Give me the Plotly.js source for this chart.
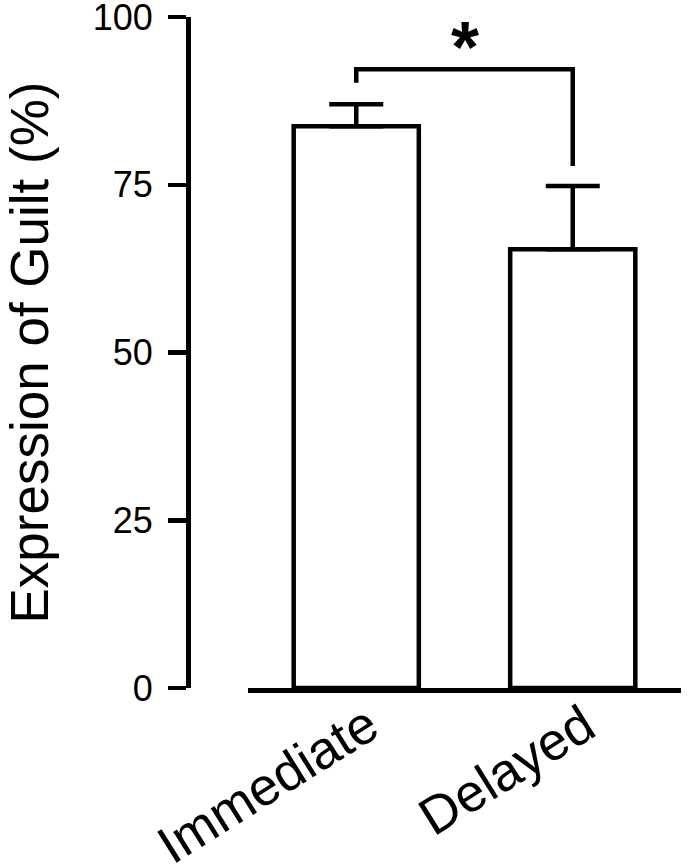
<!DOCTYPE html>
<html>
<head>
<meta charset="utf-8">
<script src="https://cdn.plot.ly/plotly-3.0.1.min.js"></script>
<style>html,body{margin:0;padding:0;background:#fff;}#chart{width:688px;height:864px;}</style>
</head>
<body>
<div id="chart"></div>
<script>
var categories = ["Immediate", "Delayed"];
var guiltValues = [83.7, 65.4];
var guiltErrors = [3.3, 9.4];
var yTickVals = [0, 25, 50, 75, 100];
var yTickText = ["0", "25", "50", "75", "100"];
var bracketX = [0, 0, 1, 1];
var bracketY = [90.2, 92.2, 92.2, 77.8];
var sigLabel = "*";
var sigX = 0.5;
var sigY = 95.5;

var FONT = "Liberation Sans, Arial, sans-serif";

var traces = [
  {
    type: "bar",
    x: [0, 1],
    y: guiltValues,
    width: 0.578,
    marker: {color: "#ffffff", line: {color: "#000000", width: 4.5}},
    error_y: {
      type: "data",
      symmetric: false,
      array: guiltErrors,
      arrayminus: [0, 0],
      color: "#000000",
      thickness: 4.5,
      width: 27
    },
    hoverinfo: "none"
  },
  {
    type: "scatter",
    mode: "lines",
    x: bracketX,
    y: bracketY,
    line: {color: "#000000", width: 4.5},
    hoverinfo: "none"
  }
];

var layout = {
  width: 688,
  height: 864,
  margin: {l: 188, r: 7, t: 17, b: 176},
  paper_bgcolor: "#ffffff",
  plot_bgcolor: "#ffffff",
  showlegend: false,
  font: {family: FONT, color: "#000000"},
  xaxis: {
    domain: [60 / 493, 1],
    range: [-0.5, 1.5],
    tickvals: [0, 1],
    ticktext: categories,
    tickangle: -32,
    tickfont: {family: FONT, size: 53, color: "#000000"},
    ticklabelshift: 12,
    ticklabelstandoff: -18,
    ticklabeloverflow: "allow",
    showline: true,
    linecolor: "#000000",
    linewidth: 4.5,
    ticks: "",
    showgrid: false,
    zeroline: false,
    fixedrange: true
  },
  yaxis: {
    anchor: "free",
    position: 0,
    range: [0, 100],
    tickvals: yTickVals,
    ticktext: yTickText,
    tickfont: {family: FONT, size: 36, color: "#000000"},
    ticklabelstandoff: 8,
    ticklabeloverflow: "allow",
    ticks: "outside",
    ticklen: 18,
    tickwidth: 4.5,
    tickcolor: "#000000",
    showline: true,
    linecolor: "#000000",
    linewidth: 4.5,
    showgrid: false,
    zeroline: false,
    fixedrange: true,
    title: {text: "Expression of Guilt (%)", font: {family: FONT, size: 53, color: "#000000"}, standoff: 57}
  },
  annotations: [
    {
      x: sigX, y: sigY, xref: "x", yref: "y",
      text: sigLabel, showarrow: false,
      font: {family: FONT, size: 72, color: "#000000", weight: "bold"}
    }
  ]
};

Plotly.newPlot("chart", traces, layout, {displayModeBar: false, staticPlot: true});
</script>
</body>
</html>
